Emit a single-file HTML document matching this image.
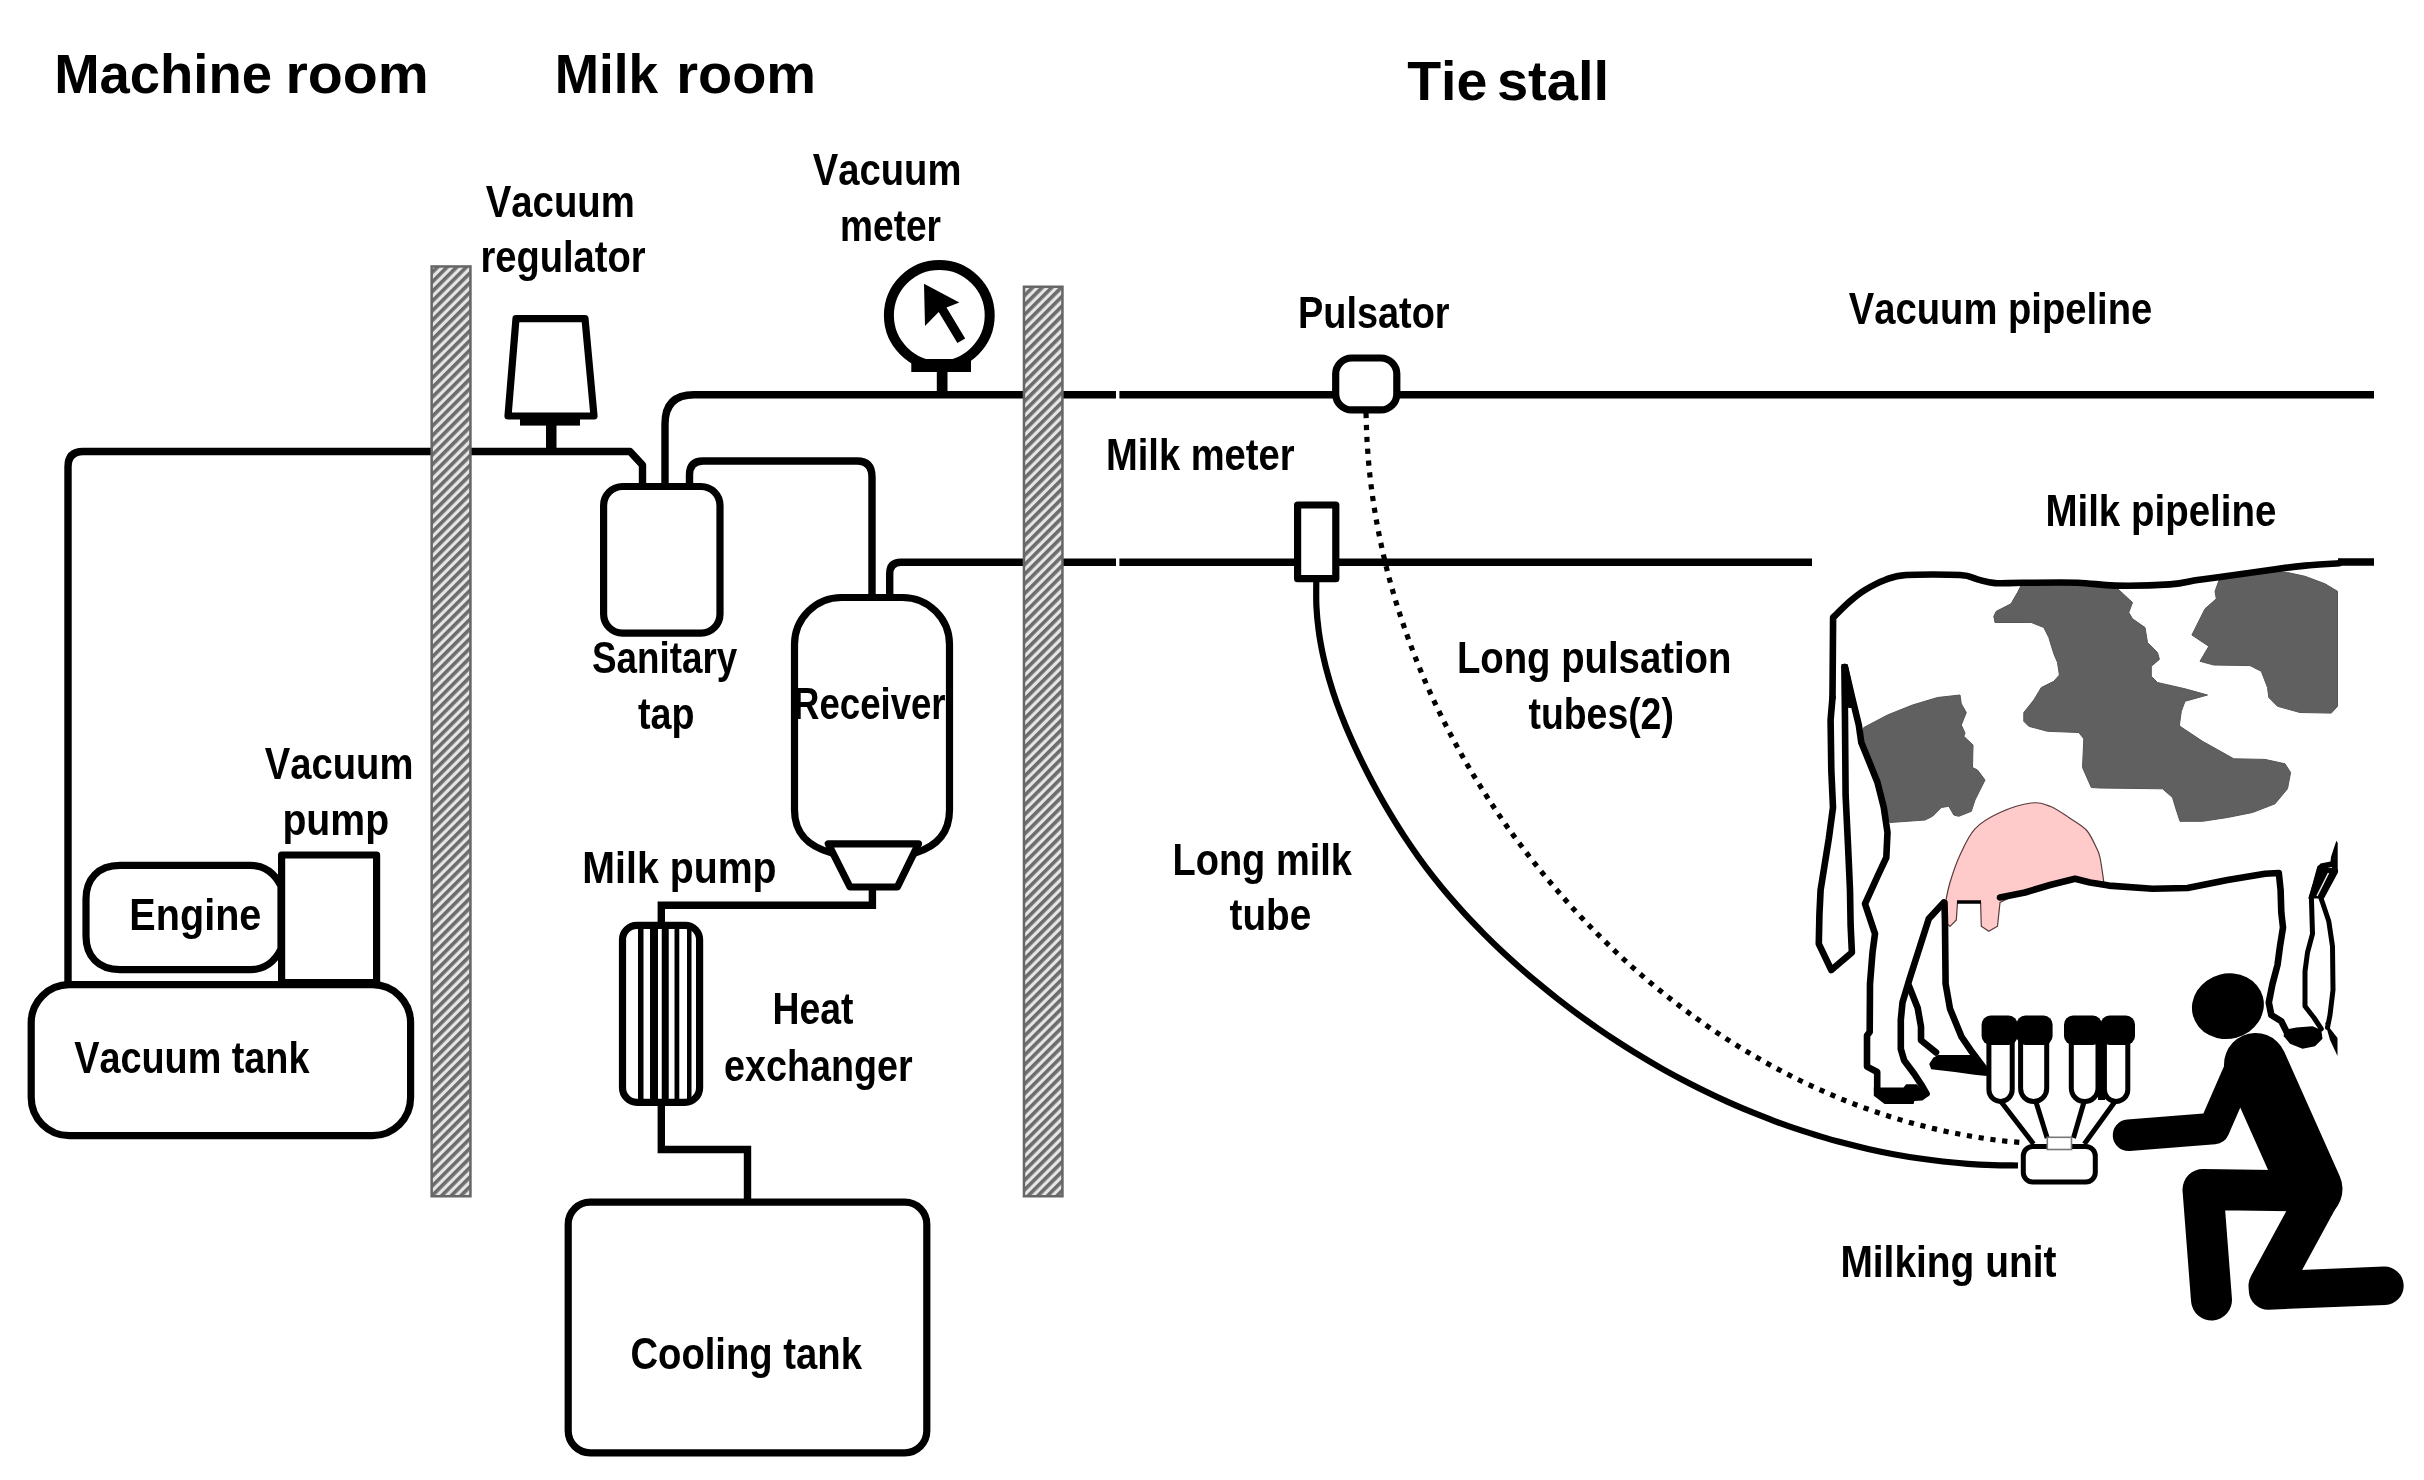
<!DOCTYPE html>
<html><head><meta charset="utf-8"><title>Milking system</title>
<style>
html,body{margin:0;padding:0;background:#fff;}
body{width:2424px;height:1480px;overflow:hidden;}
svg{display:block;}
text{font-family:"Liberation Sans",sans-serif;font-weight:bold;fill:#000;font-kerning:none;}
.p{fill:none;stroke:#000;stroke-width:7.4;stroke-linejoin:round;stroke-linecap:butt;}
.b{fill:#fff;stroke:#000;stroke-width:7.2;stroke-linejoin:round;}
.c{fill:none;stroke:#000;stroke-width:6.6;stroke-linejoin:round;stroke-linecap:round;}
.g{fill:#606060;stroke:#555;stroke-width:1;stroke-linejoin:round;}
.k{fill:#000;stroke:none;}
</style></head><body>
<svg width="2424" height="1480" viewBox="0 0 2424 1480">
<defs>
<pattern id="h" width="6.8" height="6.8" patternUnits="userSpaceOnUse" patternTransform="rotate(-45)">
<rect width="6.8" height="6.8" fill="#e6e6e6"/><rect y="0" width="6.8" height="3.6" fill="#6c6c6c"/>
</pattern>
<filter id="soft" x="0" y="0" width="2424" height="1480" filterUnits="userSpaceOnUse"><feGaussianBlur stdDeviation="0.75"/></filter>
</defs>
<g filter="url(#soft)">
<rect x="-10" y="-10" width="2444" height="1500" fill="#fff"/>
<g class="p">
<path d="M68,986 L68,467 Q68,451.5 83,451.5 L630,451.5 L642.5,465 L642.5,488"/>
<path d="M665,488 L665,424 Q665,394.8 694,394.8 L1116,394.8 M1119.4,394.8 L2374,394.8"/>
<path d="M689.5,488 L689.5,475 Q689.5,461 703,461 L857,461 Q872,461 872,477 L872,599"/>
<path d="M889.7,599 L889.7,574 Q889.7,562.3 901,562.3 L1116,562.3 M1119.4,562.3 L1812,562.3 M2338,562 L2374,562"/>
<path d="M872.4,886 L872.4,905.2 L661.3,905.2 L661.3,926" stroke-linejoin="miter"/>
<path d="M661.3,1101 L661.3,1149.5 L747.5,1149.5 L747.5,1200" stroke-linejoin="miter"/>
</g>
<rect x="431.65" y="266.45" width="38.80000000000001" height="929.8" fill="url(#h)" stroke="#666" stroke-width="2.5"/>
<rect x="1023.95" y="286.75" width="38.5" height="909.5" fill="url(#h)" stroke="#666" stroke-width="2.5"/>
<path class="b" d="M516,318.6 L585,318.6 L594,416 L508,416 Z" stroke-width="6.8" stroke-linejoin="miter"/>
<rect class="k" x="520" y="416" width="60" height="9.6"/>
<rect class="k" x="546" y="425" width="10.5" height="26"/>
<circle cx="939.3" cy="315.3" r="50.4" fill="#fff" stroke="#000" stroke-width="10"/>
<rect class="k" x="911.3" y="359" width="59.7" height="13"/>
<rect class="k" x="936.8" y="371" width="10.7" height="24"/>
<path class="k" d="M924,283.8 L959.3,302.4 L946.5,307.5 L965.2,338.4 L957.4,343 L938.7,312.1 L925,326 Z"/>
<rect class="b" x="603.6" y="486.5" width="116.4" height="146.6" rx="19" stroke-width="7.25"/>
<path class="b" d="M832,853 C810,847 794.5,835 794.5,810 L794.5,644.5 A47,47 0 0 1 841.5,597.5 L902.5,597.5 A47,47 0 0 1 949.5,644.5 L949.5,810 C949.5,835 935,847 915,853" />
<path class="b" d="M828.3,843.8 L918.5,843.8 L897.4,887 L850,887 Z" stroke-width="6.6" stroke-linejoin="miter"/>
<rect class="b" x="622.5" y="925.3" width="77.1" height="177" rx="14.5" stroke-width="6.2"/>
<rect class="k" x="638.0" y="926" width="5.5" height="176"/>
<rect class="k" x="650.0" y="926" width="8" height="176"/>
<rect class="k" x="661.75" y="926" width="7" height="176"/>
<rect class="k" x="674.525" y="926" width="4.75" height="176"/>
<rect class="k" x="687.0" y="926" width="4.5" height="176"/>
<rect class="b" x="568.2" y="1202.2" width="358.6" height="250.6" rx="22" stroke-width="7"/>
<path class="b" d="M120,865.3 L250,865.3 C265,865.3 275,874 281,886 L281,949 C275,961 265,969.7 250,969.7 L120,969.7 C98,969.7 86,956 86,936 L86,899 C86,879 98,865.3 120,865.3 Z" stroke-width="9.5"/>
<rect class="b" x="281.6" y="855" width="95" height="127.5" stroke-width="10" stroke-linejoin="miter"/>
<rect class="b" x="31.2" y="984.7" width="379.4" height="150.9" rx="38" stroke-width="7.5"/>
<rect class="b" x="1335.7" y="358" width="61.1" height="51.9" rx="16" stroke-width="6.8"/>
<rect class="b" x="1297.6" y="505" width="38.2" height="73.7" stroke-width="6.5" stroke-linejoin="miter"/>
<path d="M1316.3,581.0 C1316.3,585.2 1316.0,597.8 1316.4,606.1 C1316.8,614.4 1317.6,622.6 1318.7,630.8 C1319.8,639.0 1321.3,647.0 1323.0,655.1 C1324.7,663.2 1326.8,671.2 1329.1,679.1 C1331.4,687.0 1333.9,695.0 1336.7,702.8 C1339.5,710.6 1342.5,718.3 1345.7,726.0 C1348.9,733.7 1352.3,741.3 1355.8,748.9 C1359.3,756.5 1363.0,764.0 1366.8,771.5 C1370.6,779.0 1374.5,786.3 1378.5,793.6 C1382.5,800.9 1386.7,808.1 1391.0,815.2 C1395.3,822.3 1399.7,829.4 1404.3,836.4 C1408.9,843.4 1413.6,850.2 1418.4,857.0 C1423.2,863.8 1428.2,870.4 1433.3,876.9 C1438.4,883.4 1443.6,889.8 1449.0,896.1 C1454.4,902.4 1459.9,908.6 1465.5,914.7 C1471.1,920.8 1476.9,926.7 1482.7,932.6 C1488.5,938.5 1494.5,944.3 1500.5,950.0 C1506.5,955.7 1512.7,961.2 1518.9,966.7 C1525.1,972.2 1531.5,977.6 1537.9,982.9 C1544.3,988.2 1550.8,993.5 1557.3,998.6 C1563.8,1003.7 1570.5,1008.8 1577.2,1013.7 C1583.9,1018.6 1590.7,1023.5 1597.5,1028.2 C1604.3,1032.9 1611.3,1037.6 1618.3,1042.1 C1625.3,1046.6 1632.4,1051.1 1639.5,1055.4 C1646.6,1059.7 1653.8,1064.0 1661.0,1068.1 C1668.2,1072.2 1675.5,1076.1 1682.9,1080.0 C1690.3,1083.9 1697.7,1087.6 1705.2,1091.3 C1712.7,1095.0 1720.2,1098.5 1727.8,1101.9 C1735.4,1105.3 1743.0,1108.6 1750.7,1111.7 C1758.4,1114.8 1766.1,1117.9 1773.9,1120.8 C1781.7,1123.7 1789.5,1126.5 1797.4,1129.1 C1805.3,1131.7 1813.1,1134.2 1821.1,1136.6 C1829.0,1139.0 1837.1,1141.2 1845.1,1143.3 C1853.1,1145.4 1861.1,1147.4 1869.2,1149.2 C1877.3,1151.0 1885.4,1152.7 1893.6,1154.2 C1901.8,1155.7 1910.0,1157.1 1918.2,1158.3 C1926.4,1159.5 1934.7,1160.6 1943.0,1161.5 C1951.3,1162.4 1959.6,1163.2 1967.9,1163.8 C1976.2,1164.4 1984.6,1164.8 1992.9,1165.1 C2001.2,1165.4 2013.8,1165.4 2018.0,1165.5" fill="none" stroke="#000" stroke-width="6.2"/>
<path d="M1366.0,413.0 C1366.2,417.5 1366.5,431.0 1367.0,439.9 C1367.5,448.8 1368.2,457.7 1369.0,466.6 C1369.8,475.5 1370.9,484.4 1372.1,493.2 C1373.3,502.0 1374.7,510.8 1376.2,519.5 C1377.8,528.2 1379.5,537.0 1381.4,545.7 C1383.3,554.4 1385.3,563.1 1387.5,571.7 C1389.7,580.3 1392.1,588.8 1394.6,597.3 C1397.1,605.8 1399.8,614.3 1402.7,622.7 C1405.6,631.1 1408.6,639.6 1411.7,647.9 C1414.8,656.2 1418.1,664.5 1421.5,672.7 C1424.9,680.9 1428.5,689.0 1432.2,697.1 C1435.9,705.2 1439.8,713.2 1443.8,721.2 C1447.8,729.2 1451.9,737.0 1456.2,744.9 C1460.5,752.8 1464.9,760.6 1469.4,768.3 C1473.9,776.0 1478.6,783.5 1483.4,791.1 C1488.2,798.7 1493.1,806.2 1498.1,813.6 C1503.1,821.0 1508.3,828.4 1513.6,835.6 C1518.9,842.8 1524.2,849.9 1529.7,857.0 C1535.2,864.1 1540.9,871.1 1546.6,878.0 C1552.3,884.9 1558.2,891.7 1564.1,898.4 C1570.0,905.1 1576.0,911.8 1582.2,918.3 C1588.4,924.8 1594.6,931.2 1601.0,937.5 C1607.4,943.8 1613.9,950.1 1620.4,956.2 C1627.0,962.3 1633.5,968.2 1640.3,974.1 C1647.0,980.0 1654.0,985.7 1660.9,991.3 C1667.9,996.9 1674.9,1002.4 1682.0,1007.8 C1689.1,1013.2 1696.3,1018.4 1703.6,1023.5 C1710.9,1028.6 1718.2,1033.6 1725.7,1038.4 C1733.2,1043.2 1740.8,1048.0 1748.4,1052.5 C1756.0,1057.0 1763.7,1061.4 1771.5,1065.7 C1779.3,1070.0 1787.2,1074.1 1795.1,1078.1 C1803.0,1082.0 1811.0,1085.8 1819.1,1089.4 C1827.2,1093.0 1835.3,1096.6 1843.5,1099.9 C1851.7,1103.2 1860.1,1106.3 1868.4,1109.3 C1876.8,1112.3 1885.1,1115.1 1893.6,1117.7 C1902.1,1120.3 1910.6,1122.8 1919.2,1125.0 C1927.8,1127.2 1936.5,1129.3 1945.2,1131.2 C1953.9,1133.1 1962.7,1134.8 1971.5,1136.3 C1980.3,1137.8 1989.2,1139.2 1998.1,1140.3 C2007.0,1141.4 2020.5,1142.5 2025.0,1143.0" fill="none" stroke="#000" stroke-width="5.2" stroke-dasharray="5.2 6.7"/>
<text x="54.16" y="93.00" font-size="56" textLength="217.90" lengthAdjust="spacingAndGlyphs">Machine</text>
<text x="285.42" y="93.00" font-size="56" textLength="143.44" lengthAdjust="spacingAndGlyphs">room</text>
<text x="554.74" y="92.80" font-size="56" textLength="103.40" lengthAdjust="spacingAndGlyphs">Milk</text>
<text x="676.21" y="92.80" font-size="56" textLength="139.86" lengthAdjust="spacingAndGlyphs">room</text>
<text x="1407.18" y="100.40" font-size="56" textLength="80.22" lengthAdjust="spacingAndGlyphs">Tie</text>
<text x="1496.93" y="100.40" font-size="56" textLength="112.24" lengthAdjust="spacingAndGlyphs">stall</text>
<text x="485.74" y="217.00" font-size="43.5" textLength="149.14" lengthAdjust="spacingAndGlyphs">Vacuum</text>
<text x="480.49" y="272.00" font-size="43.5" textLength="165.09" lengthAdjust="spacingAndGlyphs">regulator</text>
<text x="812.74" y="185.00" font-size="43.5" textLength="148.63" lengthAdjust="spacingAndGlyphs">Vacuum</text>
<text x="840.06" y="241.00" font-size="43.5" textLength="101.01" lengthAdjust="spacingAndGlyphs">meter</text>
<text x="591.94" y="673.00" font-size="43.5" textLength="145.26" lengthAdjust="spacingAndGlyphs">Sanitary</text>
<text x="638.04" y="728.50" font-size="43.5" textLength="56.50" lengthAdjust="spacingAndGlyphs">tap</text>
<text x="793.05" y="718.50" font-size="43.5" textLength="152.50" lengthAdjust="spacingAndGlyphs">Receiver</text>
<text x="264.74" y="779.00" font-size="43.5" textLength="148.63" lengthAdjust="spacingAndGlyphs">Vacuum</text>
<text x="282.42" y="835.00" font-size="43.5" textLength="106.69" lengthAdjust="spacingAndGlyphs">pump</text>
<text x="129.35" y="930.00" font-size="43.5" textLength="132.00" lengthAdjust="spacingAndGlyphs">Engine</text>
<text x="74.24" y="1073.00" font-size="43.5" textLength="235.22" lengthAdjust="spacingAndGlyphs">Vacuum tank</text>
<text x="582.37" y="882.50" font-size="43.5" textLength="194.24" lengthAdjust="spacingAndGlyphs">Milk pump</text>
<text x="772.50" y="1024.00" font-size="43.5" textLength="80.95" lengthAdjust="spacingAndGlyphs">Heat</text>
<text x="724.03" y="1080.50" font-size="43.5" textLength="188.54" lengthAdjust="spacingAndGlyphs">exchanger</text>
<text x="630.43" y="1369.00" font-size="43.5" textLength="231.53" lengthAdjust="spacingAndGlyphs">Cooling tank</text>
<text x="1297.97" y="328.00" font-size="43.5" textLength="151.61" lengthAdjust="spacingAndGlyphs">Pulsator</text>
<text x="1105.95" y="470.00" font-size="43.5" textLength="188.63" lengthAdjust="spacingAndGlyphs">Milk meter</text>
<text x="1848.74" y="324.00" font-size="43.5" textLength="303.57" lengthAdjust="spacingAndGlyphs">Vacuum pipeline</text>
<text x="2045.43" y="526.00" font-size="43.5" textLength="230.89" lengthAdjust="spacingAndGlyphs">Milk pipeline</text>
<text x="1456.94" y="673.00" font-size="43.5" textLength="274.44" lengthAdjust="spacingAndGlyphs">Long pulsation</text>
<text x="1528.54" y="728.70" font-size="43.5" textLength="145.32" lengthAdjust="spacingAndGlyphs">tubes(2)</text>
<text x="1172.46" y="875.00" font-size="43.5" textLength="179.51" lengthAdjust="spacingAndGlyphs">Long milk</text>
<text x="1229.53" y="930.00" font-size="43.5" textLength="81.80" lengthAdjust="spacingAndGlyphs">tube</text>
<text x="1840.40" y="1277.00" font-size="43.5" textLength="216.08" lengthAdjust="spacingAndGlyphs">Milking unit</text>
<g id="cow">
<path class="g" d="M1863.8,727.5 L1887.5,715.0 L1912.5,705.0 L1937.5,697.5 L1960.0,695.0 L1961.3,703.8 L1966.3,712.5 L1961.3,725.0 L1965.0,733.0 L1963.8,736.3 L1973.0,745.0 L1972.5,767.5 L1977.5,770.0 L1985.0,780.0 L1975.0,800.0 L1971.3,811.3 L1958.8,816.3 L1953.8,815.0 L1948.8,806.3 L1941.3,807.5 L1932.5,816.3 L1925.0,820.0 L1890.0,822.5 L1886.0,812.0 L1881.0,792.0 L1873.0,770.0 L1866.0,750.0 L1861.0,737.0Z"/>
<path class="g" d="M2022.5,582.8 L2017.5,592.5 L2011.0,603.8 L1996.3,611.3 L1993.8,616.3 L1995.0,622.5 L2031.3,622.5 L2043.8,627.5 L2048.8,637.5 L2053.8,653.8 L2057.5,662.5 L2059.4,675.0 L2053.8,681.3 L2041.3,687.5 L2033.8,700.0 L2023.8,712.5 L2023.8,721.3 L2028.8,726.3 L2047.5,731.3 L2078.8,732.5 L2083.8,738.8 L2082.5,767.5 L2091.3,787.5 L2100.0,788.0 L2162.5,788.8 L2172.5,797.5 L2176.3,810.0 L2180.0,821.3 L2202.5,821.3 L2227.5,817.5 L2252.5,812.5 L2275.0,803.8 L2287.5,788.8 L2290.6,772.5 L2285.0,763.8 L2265.0,759.4 L2233.8,758.8 L2202.5,741.3 L2180.0,726.3 L2179.4,725.0 L2181.3,711.3 L2185.0,701.3 L2207.5,695.0 L2185.0,688.8 L2157.5,682.5 L2151.3,676.3 L2151.3,666.3 L2159.4,659.4 L2157.5,652.5 L2147.5,642.5 L2145.0,627.5 L2132.5,618.8 L2128.8,612.5 L2132.5,602.5 L2115.0,586.3 L2090.0,582.5 L2050.0,582.8Z"/>
<path class="g" d="M2220.0,577.5 L2215.0,591.3 L2216.3,598.8 L2205.0,608.8 L2191.9,635.0 L2208.8,646.3 L2200.0,661.3 L2213.8,665.0 L2250.0,665.6 L2261.3,671.3 L2267.5,687.5 L2268.8,697.5 L2277.5,706.3 L2300.0,712.5 L2331.3,713.1 L2337.5,706.3 L2337.5,591.3 L2325.0,583.8 L2305.0,576.3 L2287.5,572.5 L2270.0,570.5 L2245.0,574.0Z"/>
<path d="M1945.0,905.0 C1945.8,901.2 1947.5,890.8 1950.0,882.5 C1952.5,874.2 1955.8,864.0 1960.0,855.0 C1964.2,846.0 1968.3,835.9 1975.0,828.8 C1981.7,821.7 1990.6,816.8 2000.0,812.5 C2009.4,808.2 2023.0,804.0 2031.3,803.0 C2039.6,802.0 2043.8,803.9 2050.0,806.3 C2056.2,808.7 2062.8,813.5 2068.8,817.5 C2074.9,821.5 2081.7,825.0 2086.3,830.0 C2090.9,835.0 2094.0,842.9 2096.3,847.5 C2098.6,852.1 2098.8,851.8 2100.0,857.5 C2101.2,863.2 2103.2,877.9 2103.8,882.0 L2075,879 L2050,885 L2025,892.5 L2012.5,896.3 L2000,902.5 L1997.5,926.3 L1988.8,931.3 L1981.3,926.3 L1980.6,902.5 L1957.5,902.5 L1956.3,920 L1950,926.3 L1945,922.5 Z" fill="#ffcaca" stroke="#5a3a3a" stroke-width="1.2" stroke-linejoin="round"/>
<path d="M1957,902 L1981,902" stroke="#000" stroke-width="3.5" fill="none"/>
<g class="c">
<path d="M1832.5,697.5 L1833.1,617.5  C1835.9,614.8 1844.7,605.9 1850.0,601.3 C1855.3,596.7 1859.2,593.5 1865.0,590.0 C1870.8,586.5 1878.1,582.5 1885.0,580.0 C1891.9,577.5 1893.8,575.8 1906.3,575.0 C1918.8,574.2 1948.1,574.3 1960.0,575.0 C1971.9,575.7 1971.7,578.0 1977.5,579.4 C1983.3,580.8 1987.5,582.5 1995.0,583.1 C2002.5,583.7 2008.8,582.9 2022.5,582.8 C2036.2,582.7 2061.9,582.2 2077.3,582.7 C2092.7,583.2 2099.6,585.3 2115.0,585.6 C2130.4,585.9 2156.2,585.3 2170.0,584.4 C2183.8,583.5 2189.2,581.2 2197.5,580.0 C2205.8,578.8 2207.9,578.6 2220.0,576.9 C2232.1,575.2 2255.8,571.9 2270.0,570.0 C2284.2,568.1 2293.5,566.7 2305.0,565.6 C2316.5,564.5 2333.3,563.7 2339.0,563.3" />
<path d="M1841.5,664 L1847.5,664 L1857,708 L1848.3,708 Z" fill="#000" stroke="none"/>
<path d="M1832.5,697.5 L1830.6,720.0 L1831.3,770.0 L1833.0,807.5 L1828.8,838.8 L1823.8,870.0 L1820.6,890.0 L1819.4,915.0 L1818.8,943.8 L1831.3,970.0 L1851.9,952.5 L1850.6,925.0 L1850.0,890.0 L1848.0,845.0 L1845.6,795.0 L1845.0,720.0 L1844.4,667.0"/>
<path d="M1845.0,667.0 L1852.0,697.0 L1858.8,725.0 L1861.3,742.5 L1870.0,763.8 L1877.5,782.5 L1883.8,807.5 L1887.5,832.5 L1886.3,857.5 L1877.5,876.3 L1865.0,903.8 L1875.0,933.8 L1872.5,952.5 L1870.0,983.8 L1869.7,1032.0 L1867.0,1035.5 L1867.0,1066.6 L1877.2,1072.0 L1877.2,1090.0"/>
<path d="M1943.8,902.5 L1928.8,918.8 L1920.0,946.3 L1910.0,977.5 L1902.5,1002.5 L1900.8,1020.0 L1900.8,1049.0 L1904.2,1060.5 L1914.3,1074.0 L1921.0,1084.2 L1926.5,1093.6"/>
<path d="M1909.0,986.0 L1917.7,1008.0 L1921.0,1026.8 L1921.0,1040.3 L1936.0,1052.4"/>
<path d="M1944.5,903.0 L1945.0,923.8 L1945.6,983.8 L1950.0,1008.8 L1961.6,1036.9 L1971.8,1051.8 L1986.6,1071.4"/>
<path d="M2000.0,897.5 L2025.0,892.5 L2050.0,885.0 L2075.0,878.8 L2090.0,882.5 L2108.8,885.6 L2152.5,888.8 L2187.5,888.0 L2227.5,880.0 L2265.0,873.8 L2278.8,873.0 L2280.6,890.0 L2281.3,912.5 L2283.0,927.5 L2280.0,946.3 L2277.5,965.0 L2272.5,983.8 L2268.8,1002.5 L2271.3,1015.0 L2281.3,1021.3 L2286.3,1031.3"/>
<path d="M2319.5,867.8 L2311.4,897.6 L2312.5,933.8 L2307.5,952.5 L2305.0,971.3 L2305.0,1006.3 L2313.8,1017.5 L2321.3,1028.8" stroke-width="5"/>
<path d="M2335.5,871.0 L2320.8,897.6 L2322.5,902.5 L2328.8,921.3 L2332.5,946.3 L2333.0,990.0 L2330.0,1015.0 L2327.5,1027.5" stroke-width="5"/>
</g>
<path class="k" d="M1873.8,1087.6 L1903.5,1087.6 L1906.2,1084.2 L1916.4,1084.2 L1927.2,1094.3 L1927.2,1097 L1922.4,1100.4 L1914.3,1101.1 L1913.6,1104.1 L1884.6,1104.1 L1873.8,1095.7 Z"/>
<path class="k" d="M1933.2,1057.8 L1938,1055 L1971.8,1055 L1986.6,1071.4 L1986.6,1076 L1974.5,1074.7 L1954.9,1072 L1931.2,1069.3 L1929.2,1064 Z"/>
<path class="k" d="M2283.8,1030 L2296.3,1027.5 L2312.5,1026.3 L2321.3,1030 L2322.5,1038.8 L2315,1046.3 L2302.5,1048.8 L2290,1043.8 L2283.8,1036.3 Z" stroke="#000" stroke-width="2" stroke-linejoin="round"/>
<path class="k" d="M2336.4,840.8 L2337.7,843 L2337.7,871 L2335,873 L2331.5,867 L2322,869 L2317.5,867 L2320.5,863.5 L2330.5,861.5 L2331,857 L2333.6,848.9 Z"/>
<path class="k" d="M2325,1022 L2337.5,1038 L2337.5,1056 L2330,1040 Z"/>
<path class="k" d="M2318.5,866 L2337.7,869 L2337.7,873 L2324,898.5 L2308.2,898.5 Z"/>
<path d="M2328.5,873 L2317,896" stroke="#e8e8e8" stroke-width="1.6" fill="none"/>
</g>
<g id="unit">
<path d="M2000.5,1101 L2033.6,1144" stroke="#000" stroke-width="5" fill="none"/>
<path d="M2035.7,1101 L2047.2,1138" stroke="#000" stroke-width="5" fill="none"/>
<path d="M2084.3,1101 L2073.5,1138" stroke="#000" stroke-width="5" fill="none"/>
<path d="M2115.4,1101 L2084.3,1144" stroke="#000" stroke-width="5" fill="none"/>
<rect x="2023.3" y="1146.4" width="72" height="35.6" rx="9.5" fill="#fff" stroke="#000" stroke-width="5"/>
<rect x="2047.3" y="1137.3" width="24.2" height="12.2" fill="#fff" stroke="#777" stroke-width="1.6"/>
<path d="M1988.9,1040 L1988.9,1089.8 A11.65,11.65 0 0 0 2012.2,1089.8 L2012.2,1040 Z" fill="#fff" stroke="#000" stroke-width="5"/>
<rect class="k" x="1981.6" y="1015.5" width="36.0" height="29.5" rx="9"/>
<path d="M2020.6,1040 L2020.6,1088.5 A13.05,13.05 0 0 0 2046.6999999999998,1088.5 L2046.6999999999998,1040 Z" fill="#fff" stroke="#000" stroke-width="5"/>
<rect class="k" x="2016.4" y="1015.5" width="36.19999999999982" height="29.5" rx="9"/>
<path d="M2071.3,1040 L2071.3,1088.2 A13.35,13.35 0 0 0 2098.0,1088.2 L2098.0,1040 Z" fill="#fff" stroke="#000" stroke-width="5"/>
<rect class="k" x="2064" y="1015.5" width="37.90000000000009" height="29.5" rx="9"/>
<path d="M2104.4,1040 L2104.4,1089.8 A11.70,11.70 0 0 0 2127.8,1089.8 L2127.8,1040 Z" fill="#fff" stroke="#000" stroke-width="5"/>
<rect class="k" x="2100.5" y="1015.5" width="34.5" height="29.5" rx="9"/>
<rect class="k" x="2098" y="1030" width="7" height="70"/>
</g>
<g id="person" stroke="#000" fill="none" stroke-linecap="round" stroke-linejoin="round">
<ellipse cx="2227.9" cy="1006.2" rx="36.2" ry="32.6" fill="#000" stroke="none" transform="rotate(-15 2227.9 1006.2)"/>
<path d="M2255.5,1064.5 L2311,1189" stroke-width="63"/>
<path d="M2128.5,1135.2 L2214,1128.5 L2243,1062" stroke-width="31.5"/>
<path d="M2316,1191 L2203,1189.5 L2211.5,1300" stroke-width="41"/>
<path d="M2319.4,1194.3 L2269.5,1286" stroke-width="42"/>
<path d="M2268,1290.5 L2384.5,1285.8" stroke-width="38.4"/>
</g>
</g>
</svg>
</body></html>
